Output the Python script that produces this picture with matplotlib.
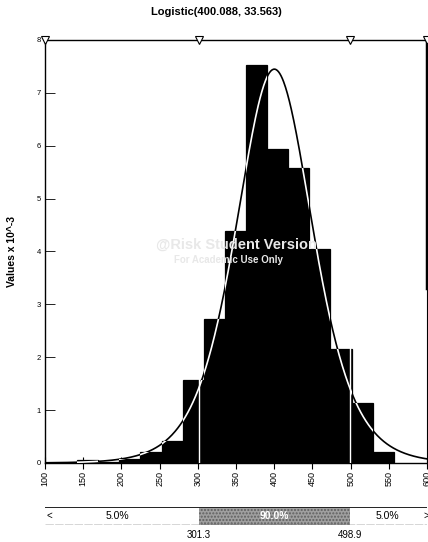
import numpy as np
import matplotlib
matplotlib.use("Agg")
import matplotlib.pyplot as plt
from matplotlib.patches import Rectangle

plt.rcParams['font.family'] = ['Liberation Sans Narrow', 'Liberation Sans', 'DejaVu Sans']

# fitted distribution
mu = 400.088
s = 33.563
title = "Logistic(400.088, 33.563)"

# histogram of the simulated values (density, x 10^-3)
bin_start = 142.0
bin_width = 27.63
heights = [0.05, 0.02, 0.08, 0.20, 0.42, 1.57, 2.73, 4.39,
           7.52, 5.93, 5.57, 4.04, 2.15, 1.14, 0.20]

# delimiters and the probabilities between them
p_lo = 301.3
p_hi = 498.9
probs = ["5.0%", "90.0%", "5.0%"]

xmin, xmax = 100, 600
ymin, ymax = 0, 8
xticks = list(range(100, 601, 50))
yticks = list(range(0, 9))

fig = plt.figure(figsize=(4.28, 5.42), dpi=100)
ax = fig.add_axes([0.105, 0.1458, 0.893, 0.7804])

edges = bin_start + bin_width * np.arange(len(heights))
bars = ax.bar(edges, heights, width=bin_width, align='edge',
              color='black', edgecolor='black', linewidth=0.9, zorder=2)

# logistic density curve, black on the white area and white across the bars
xs = np.linspace(xmin, xmax, 600)
z = np.exp(-(xs - mu) / s)
pdf = z / (s * (1 + z) ** 2) * 1000
ax.plot(xs, pdf, color='black', lw=1.2, zorder=3)
for b in bars:
    ln, = ax.plot(xs, pdf, color='white', lw=1.2, zorder=4)
    ln.set_clip_path(b)

# delimiter lines
for v in (p_lo, p_hi):
    ax.plot([v, v], [ymin, ymax], color='white', lw=1.0, zorder=5)
    ax.plot([v, v], [ymin, ymax], color='#bbbbbb', lw=0.4, ls=(0, (1, 6)), zorder=1)
ax.plot([xmax, xmax], [3.3, ymax], color='black', lw=2.5, zorder=5, clip_on=False)
ax.plot([xmin, p_lo, p_hi, xmax], [ymax] * 4, ls='none', marker='v', ms=6,
        mfc='white', mec='black', mew=0.8, zorder=6, clip_on=False)

ax.set_xlim(xmin, xmax)
ax.set_ylim(ymin, ymax)
ax.set_xticks(xticks)
ax.set_xticklabels([str(t) for t in xticks], rotation=90, fontsize=6.5)
ax.set_yticks(yticks)
ax.set_yticklabels([str(t) for t in yticks], fontsize=5.5)
ax.tick_params(axis='x', direction='inout', length=8, width=0.8, pad=2)
ax.tick_params(axis='y', direction='in', length=7, width=0.6, pad=3)
for side in ('top', 'left', 'bottom'):
    ax.spines[side].set_linewidth(1.0)
ax.spines['right'].set_linewidth(0.8)

ax.set_ylabel("Values x 10^-3", fontsize=7.5, fontweight='bold', labelpad=14)
fig.text(0.505, 0.977, title, ha='center', va='center', fontsize=8, fontweight='bold')

# watermark
ax.text(350, 4.12, "@Risk Student Version", color='#e8e8e8', fontsize=10.5,
        fontweight='bold', ha='center', va='center', zorder=7)
ax.text(340, 3.84, "For Academic Use Only", color='#e8e8e8', fontsize=7,
        fontweight='bold', ha='center', va='center', zorder=7)

# probability slider under the chart
sx = fig.add_axes([0.105, 0.031, 0.893, 0.033])
sx.set_xlim(xmin, xmax)
sx.set_ylim(0, 1)
sx.axis('off')
sx.add_patch(Rectangle((xmin, 0), xmax - xmin, 1, facecolor='white',
                       edgecolor='none'))
sx.add_patch(Rectangle((p_lo, 0), p_hi - p_lo, 1, facecolor='#a0a0a0',
                       edgecolor='#606060', hatch='.....', lw=0))
sx.plot([xmin, xmax], [1, 1], color='#222222', lw=1.4)
sx.plot([xmin, xmax], [0, 0], color='#333333', lw=1.0, ls=(0, (6, 1)))
sx.text((xmin + p_lo) / 2 - 6, 0.5, probs[0], ha='center', va='center', fontsize=7.5)
sx.text((p_lo + p_hi) / 2, 0.5, probs[1], ha='center', va='center', fontsize=7.5,
        color='white', fontweight='bold')
sx.text((p_hi + xmax) / 2 - 2, 0.5, probs[2], ha='center', va='center', fontsize=7.5)
sx.text(xmin + 6, 0.5, "<", ha='center', va='center', fontsize=7)
sx.text(xmax - 1, 0.5, ">", ha='center', va='center', fontsize=7)
sx.text(p_lo, -0.25, f"{p_lo:.1f}", ha='center', va='top', fontsize=7)
sx.text(p_hi, -0.25, f"{p_hi:.1f}", ha='center', va='top', fontsize=7)

fig.savefig("out.png", dpi=100)
